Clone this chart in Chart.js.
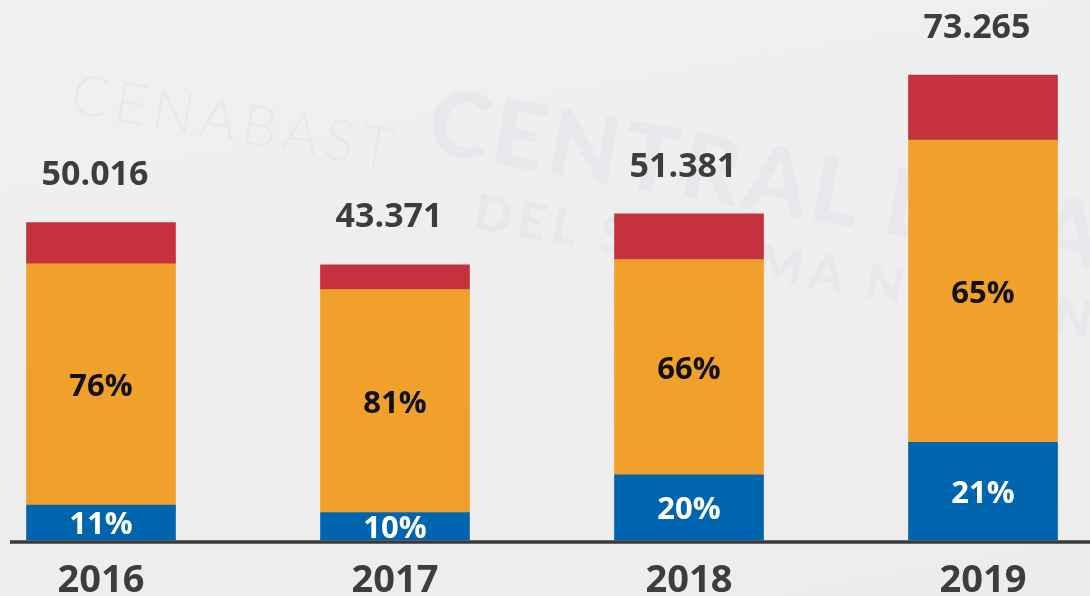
<!DOCTYPE html>
<html>
<head>
<meta charset="utf-8">
<script src="https://cdn.jsdelivr.net/npm/chart.js@4"></script>
<style>
    html, body { margin: 0; padding: 0; }
    body {
        width: 1090px;
        height: 596px;
        overflow: hidden;
        position: relative;
        background: linear-gradient(170deg, #f1f0f1 0%, #efeeef 55%, #eeeceb 100%);
        font-family: "Open Sans", Lato, sans-serif;
    }
    .wm {
        position: absolute;
        color: #e8e8ec;
        white-space: nowrap;
        transform-origin: left top;
        font-family: Lato, sans-serif;
    }
    .wm-small { left: 78px; top: 58px; font-size: 56px; font-weight: 300; letter-spacing: 6px; transform: rotate(10deg); }
    .wm-big { left: 440px; top: 62px; font-size: 92px; font-weight: 900; letter-spacing: 4px; transform: rotate(10deg); }
    .wm-mid { left: 480px; top: 180px; font-size: 50px; font-weight: 900; letter-spacing: 6px; transform: rotate(10deg); }
    #chart-wrap { position: absolute; left: 0; top: 0; width: 1090px; height: 596px; }
</style>
</head>
<body>
<div class="wm wm-small">CENABAST</div>
<div class="wm wm-big">CENTRAL DE AB</div>
<div class="wm wm-mid">DEL SISTEMA NACIONAL</div>
<div id="chart-wrap"><canvas id="chart"></canvas></div>

<script>
// Years and printed totals
const years = ['2016', '2017', '2018', '2019'];
const totals = [50016, 43371, 51381, 73265];

// Share of each total (%), bottom to top
const bluePct = [11, 10, 20, 21];
const orangePct = [76, 81, 66, 65];
const redPct = [13, 9, 14, 14];

const COLORS = {
    blue: '#0065af',
    orange: '#f1a12b',
    red: '#c5323d',
    text: '#3d3d3d'
};

const FONT = '"Open Sans", Lato, sans-serif';

/**
 * Format number with dot as thousands separator (50.016)
 */
function formatNumber(n) {
    return String(n).replace(/\B(?=(\d{3})+(?!\d))/g, '.');
}

function part(pcts) {
    return totals.map((t, i) => t * pcts[i] / 100);
}

// Draws percent labels inside segments, totals on top, and the base line
const labelsPlugin = {
    id: 'labels',
    afterDatasetsDraw(chart) {
        const ctx = chart.ctx;
        const area = chart.chartArea;
        ctx.save();

        // base line across the slide
        ctx.strokeStyle = '#3a3a3a';
        ctx.lineWidth = 3.5;
        ctx.beginPath();
        ctx.moveTo(10, area.bottom + 2);
        ctx.lineTo(1090, area.bottom + 2);
        ctx.stroke();

        ctx.textAlign = 'center';
        ctx.textBaseline = 'middle';

        const segLabels = [
            { idx: 0, pcts: bluePct, color: '#ffffff' },
            { idx: 1, pcts: orangePct, color: '#111111' }
        ];
        ctx.font = 'bold 31px ' + FONT;
        segLabels.forEach(s => {
            const meta = chart.getDatasetMeta(s.idx);
            meta.data.forEach((bar, i) => {
                ctx.fillStyle = s.color;
                ctx.fillText(s.pcts[i] + '%', bar.x, (bar.y + bar.base) / 2 + 3);
            });
        });

        ctx.font = 'bold 34px ' + FONT;
        ctx.fillStyle = COLORS.text;
        const topMeta = chart.getDatasetMeta(2);
        topMeta.data.forEach((bar, i) => {
            ctx.fillText(formatNumber(totals[i]), bar.x - 6, bar.y - 47);
        });

        ctx.restore();
    }
};

new Chart(document.getElementById('chart'), {
    type: 'bar',
    data: {
        labels: years,
        datasets: [
            { label: 'Azul', data: part(bluePct), backgroundColor: COLORS.blue },
            { label: 'Naranja', data: part(orangePct), backgroundColor: COLORS.orange },
            { label: 'Rojo', data: part(redPct), backgroundColor: COLORS.red }
        ]
    },
    options: {
        responsive: true,
        maintainAspectRatio: false,
        animation: false,
        layout: {
            padding: { top: 10, left: 101, right: 107, bottom: 0 }
        },
        datasets: {
            bar: {
                barThickness: 149,
                borderWidth: 0,
                clip: false
            }
        },
        plugins: {
            legend: { display: false },
            tooltip: { enabled: false }
        },
        scales: {
            x: {
                stacked: true,
                offset: false,
                grid: { display: false, drawTicks: false },
                border: { display: false },
                ticks: {
                    color: COLORS.text,
                    padding: 18,
                    maxRotation: 0,
                    font: { family: FONT, size: 38, weight: 'bold' }
                },
                afterFit(axis) {
                    axis.height = 56;
                }
            },
            y: {
                stacked: true,
                display: false,
                min: 0,
                max: 83500
            }
        }
    },
    plugins: [labelsPlugin]
});
</script>
</body>
</html>
